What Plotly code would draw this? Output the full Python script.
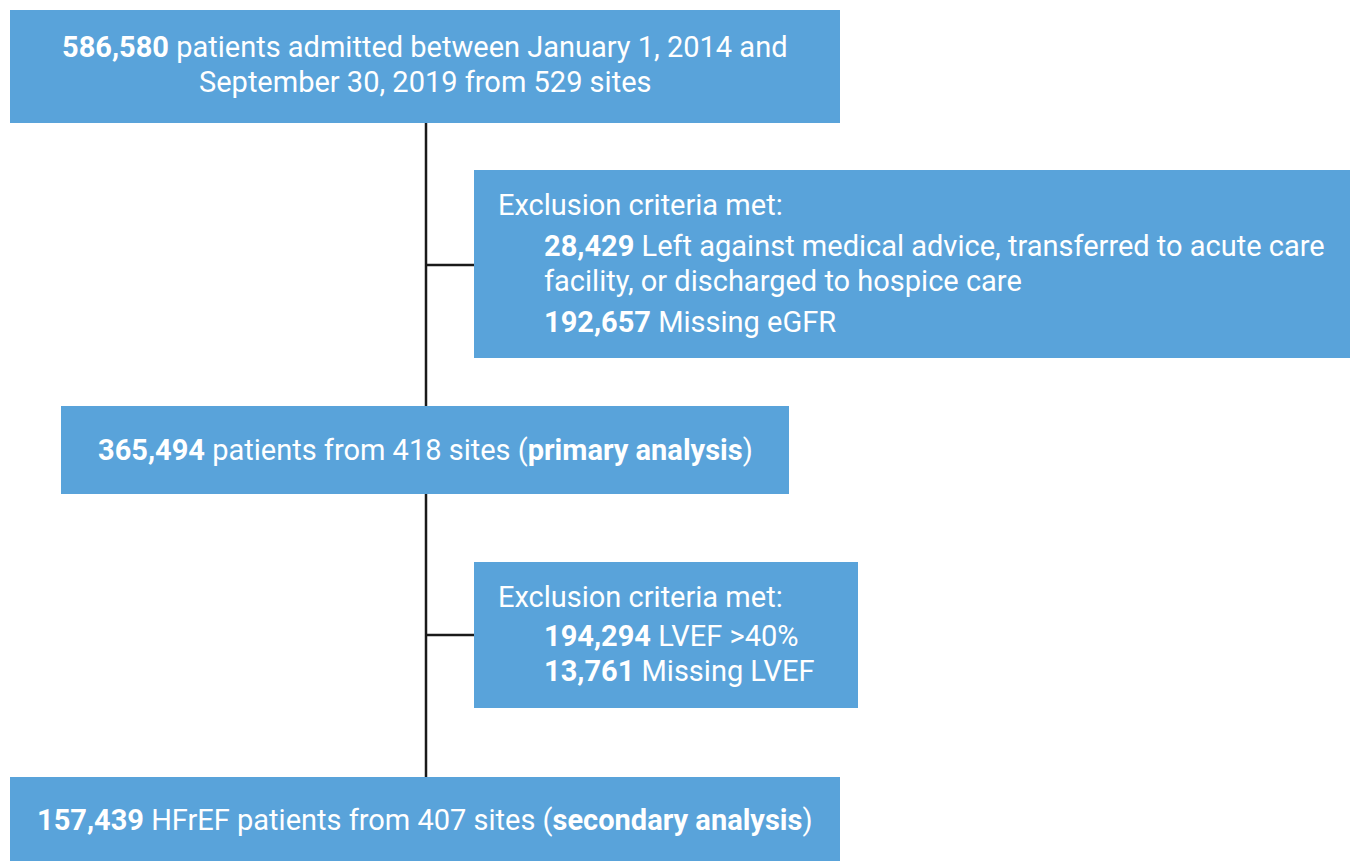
import plotly.graph_objects as go

# ---- data ----
total_patients = 586580
total_sites = 529
period_text = ["between January 1, 2014 and", "September 30, 2019"]
excl1_counts = [28429, 192657]
excl1_labels = ["Left against medical advice, transferred to acute care",
                "Missing eGFR"]
excl1_label_cont = "facility, or discharged to hospice care"
primary_patients = 365494
primary_sites = 418
excl2_counts = [194294, 13761]
excl2_labels = ["LVEF >40%", "Missing LVEF"]
secondary_patients = 157439
secondary_sites = 407

BLUE = "#59A3DA"
FONT = "Roboto"
FS = 29

fig = go.Figure()
W, H = 1358, 861
OFF = 8  # page body margin

def box(x0, y0, x1, y1):
    fig.add_shape(type="rect", x0=x0, y0=y0, x1=x1, y1=y1, xref="x", yref="y",
                  fillcolor=BLUE, line=dict(width=0), layer="below")

def line(x0, y0, x1, y1):
    fig.add_shape(type="line", x0=x0, y0=y0, x1=x1, y1=y1, xref="x", yref="y",
                  line=dict(color="#1a1a1a", width=2.5), layer="below")

def text(x, y, t, anchor="center"):
    fig.add_annotation(x=x, y=y, xref="x", yref="y", text=t, showarrow=False,
                       xanchor=anchor, yanchor="middle",
                       font=dict(family=FONT, size=FS, color="white"))

# connectors
line(426, 123, 426, 777)
line(426, 265, 474, 265)
line(426, 635, 474, 635)

# boxes
box(10, 10, 840, 123)
box(474, 170, 1352, 358)
box(61, 406, 789, 494)
box(474, 562, 858, 708)
box(10, 777, 840, 870)

# box 1
text(425, 47, f"<b>{total_patients:,}</b> patients admitted {period_text[0]}")
text(425, 82, f"{period_text[1]} from {total_sites} sites")

# box 2
text(496, 205, "Exclusion criteria met:", "left")
text(542, 246, f"<b>{excl1_counts[0]:,}</b> {excl1_labels[0]}", "left")
text(542, 281, excl1_label_cont, "left")
text(542, 322, f"<b>{excl1_counts[1]:,}</b> {excl1_labels[1]}", "left")

# box 3
text(425, 450, f"<b>{primary_patients:,}</b> patients from {primary_sites} sites (<b>primary analysis</b>)")

# box 4
text(496, 597, "Exclusion criteria met:", "left")
text(542, 636, f"<b>{excl2_counts[0]:,}</b> {excl2_labels[0]}", "left")
text(542, 671, f"<b>{excl2_counts[1]:,}</b> {excl2_labels[1]}", "left")

# box 5
text(425, 820, f"<b>{secondary_patients:,}</b> HFrEF patients from {secondary_sites} sites (<b>secondary analysis</b>)")

fig.update_xaxes(range=[OFF, W], visible=False, fixedrange=True)
fig.update_yaxes(range=[H, OFF], visible=False, fixedrange=True)
fig.update_layout(width=W - OFF, height=H - OFF, margin=dict(l=0, r=0, t=0, b=0),
                  paper_bgcolor="white", plot_bgcolor="white", showlegend=False)

fig.write_html("out.html", config={"displayModeBar": False})
